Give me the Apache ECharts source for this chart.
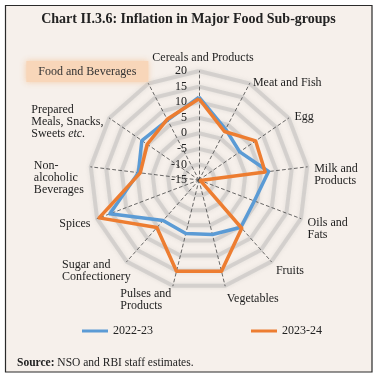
<!DOCTYPE html>
<html>
<head>
<meta charset="utf-8">
<script src="https://cdn.jsdelivr.net/npm/echarts@6/dist/echarts.min.js"></script>
<style>
html, body { margin: 0; padding: 0; background: #fff; }
#chart { width: 377px; height: 378px; }
</style>
</head>
<body>
<div id="chart"></div>
<script>
// radar lays its axes out counter-clockwise from the top, so the order is top, then going left
const categories = [
  'Cereals and Products', 'Food and Beverages', 'Prepared Meals, Snacks, Sweets etc.',
  'Non-alcoholic Beverages', 'Spices', 'Sugar and Confectionery', 'Pulses and Products',
  'Vegetables', 'Fruits', 'Oils and Fats', 'Milk and Products', 'Egg', 'Meat and Fish'
];
const inflation2223 = [11.6, 6.7, 7.3, 4.6, 15.6, 2.4, 2.7, 3.0, 5.3, 4.0, 7.5, 0.9, 3.4];
const inflation2324 = [11.1, 7.0, 5.2, 4.0, 19.3, 5.4, 15.2, 15.2, 5.7, -14.5, 6.4, 7.1, 2.6];
const seriesNames = ['2022-23', '2023-24'];
const tickLabels = ['-15', '-10', '-5', '0', '5', '10', '15', '20'];
const axisMin = -15;
const axisMax = 20;

const serif = 'Liberation Serif';

// how each axis name is broken into lines
const nameText = {
  'Food and Beverages': '{fb|Food and Beverages}',
  'Prepared Meals, Snacks, Sweets etc.': '{t|Prepared}\n{t|Meals, Snacks,}\n{t|Sweets }{i|etc.}',
  'Non-alcoholic Beverages': '{t|Non-}\n{t|alcoholic}\n{t|Beverages}',
  'Sugar and Confectionery': '{t|Sugar and}\n{t|Confectionery}',
  'Pulses and Products': '{t|Pulses and}\n{t|Products}',
  'Milk and Products': '{t|Milk and}\n{t|Products}',
  'Oils and Fats': '{t|Oils and}\n{t|Fats}'
};

// small nudges of the names: [padding, nameGap]
const nameNudge = {
  'Cereals and Products': [[0, 0, 0, 8], 7],
  'Food and Beverages': [[0, 0, 24, 0], 0],
  'Prepared Meals, Snacks, Sweets etc.': [[16, 0, 0, 0], 7],
  'Non-alcoholic Beverages': [[23, 0, 0, 0], 7],
  'Spices': [[6, 0, 0, 0], 7],
  'Sugar and Confectionery': [[27, 0, 0, 0], -6],
  'Pulses and Products': [[14, 0, 0, 0], 7],
  'Vegetables': [[13, 0, 0, 0], 7],
  'Fruits': [[9, 0, 0, 0], 7],
  'Oils and Fats': [[16, 0, 0, 0], 7],
  'Milk and Products': [[18, 0, 0, 0], 7],
  'Egg': [[6, 0, 0, 0], 7],
  'Meat and Fish': [[12, 0, 0, 0], 7]
};

const chart = echarts.init(document.getElementById('chart'));

const option = {
  animation: false,
  graphic: [
    {
      type: 'rect', z: -10, silent: true,
      shape: { x: 5.5, y: 5.5, width: 366.5, height: 366.5 },
      style: { fill: '#f6f0eb', stroke: '#2a2a2a', lineWidth: 1.2 }
    },
    {
      type: 'text', left: 'center', top: 12,
      style: {
        text: 'Chart II.3.6: Inflation in Major Food Sub-groups',
        font: 'bold 14px "Liberation Serif"', fill: '#222'
      }
    },
    {
      type: 'text', left: 17, top: 357,
      style: {
        text: '{b|Source:} NSO and RBI staff estimates.',
        fontFamily: serif, fontSize: 11.5, fill: '#222',
        rich: { b: { fontFamily: serif, fontSize: 11.5, fontWeight: 'bold', fill: '#222' } }
      }
    }
  ],
  legend: {
    data: seriesNames,
    left: 82, top: 325, padding: 0,
    itemGap: 98, itemWidth: 26, itemHeight: 3, icon: 'rect',
    textStyle: { fontFamily: serif, fontSize: 12, color: '#222' }
  },
  radar: {
    center: [199, 180],
    radius: 109,
    startAngle: 90,
    splitNumber: 7,
    shape: 'polygon',
    axisNameGap: 7,
    indicator: categories.map(function (c, i) {
      const ind = { name: c, min: axisMin, max: axisMax };
      if (nameNudge[c]) {
        ind.nameTextStyle = { padding: nameNudge[c][0] };
        ind.nameGap = nameNudge[c][1];
      }
      if (i === 0) {
        ind.axisLabel = {
          show: true, margin: 12, color: '#222', fontFamily: serif, fontSize: 12,
          formatter: function (v) { return tickLabels[Math.round((v - axisMin) / 5)]; }
        };
      }
      return ind;
    }),
    axisName: {
      color: '#1e1e1e', fontFamily: serif, fontSize: 12, lineHeight: 12,
      formatter: function (name) { return nameText[name] || '{t|' + name + '}'; },
      rich: {
        t: { fontFamily: serif, fontSize: 12, lineHeight: 12, color: '#1e1e1e', align: 'left' },
        i: { fontFamily: serif, fontSize: 12, lineHeight: 12, color: '#1e1e1e', fontStyle: 'italic', align: 'left' },
        fb: {
          fontFamily: serif, fontSize: 12, color: '#333', backgroundColor: '#f8d6b9',
          padding: [5, 12, 4, 12], shadowBlur: 6, shadowColor: 'rgba(245,200,160,0.9)'
        }
      }
    },
    axisLine: { lineStyle: { color: '#444', width: 0.8, type: [3, 3] } },
    axisTick: { show: false },
    axisLabel: { show: false },
    splitLine: {
      lineStyle: {
        color: 'rgba(170,170,170,0.35)', width: 4,
        shadowBlur: 4, shadowColor: 'rgba(150,150,150,0.55)'
      }
    },
    splitArea: { show: false }
  },
  series: [
    {
      type: 'radar',
      symbol: 'none',
      data: [
        {
          name: seriesNames[0], value: inflation2223,
          lineStyle: { color: '#5b9bd5', width: 3.5 }, itemStyle: { color: '#5b9bd5' }
        },
        {
          name: seriesNames[1], value: inflation2324,
          lineStyle: { color: '#ed7d31', width: 3.5 }, itemStyle: { color: '#ed7d31' }
        }
      ]
    }
  ]
};

chart.setOption(option);
</script>
</body>
</html>
